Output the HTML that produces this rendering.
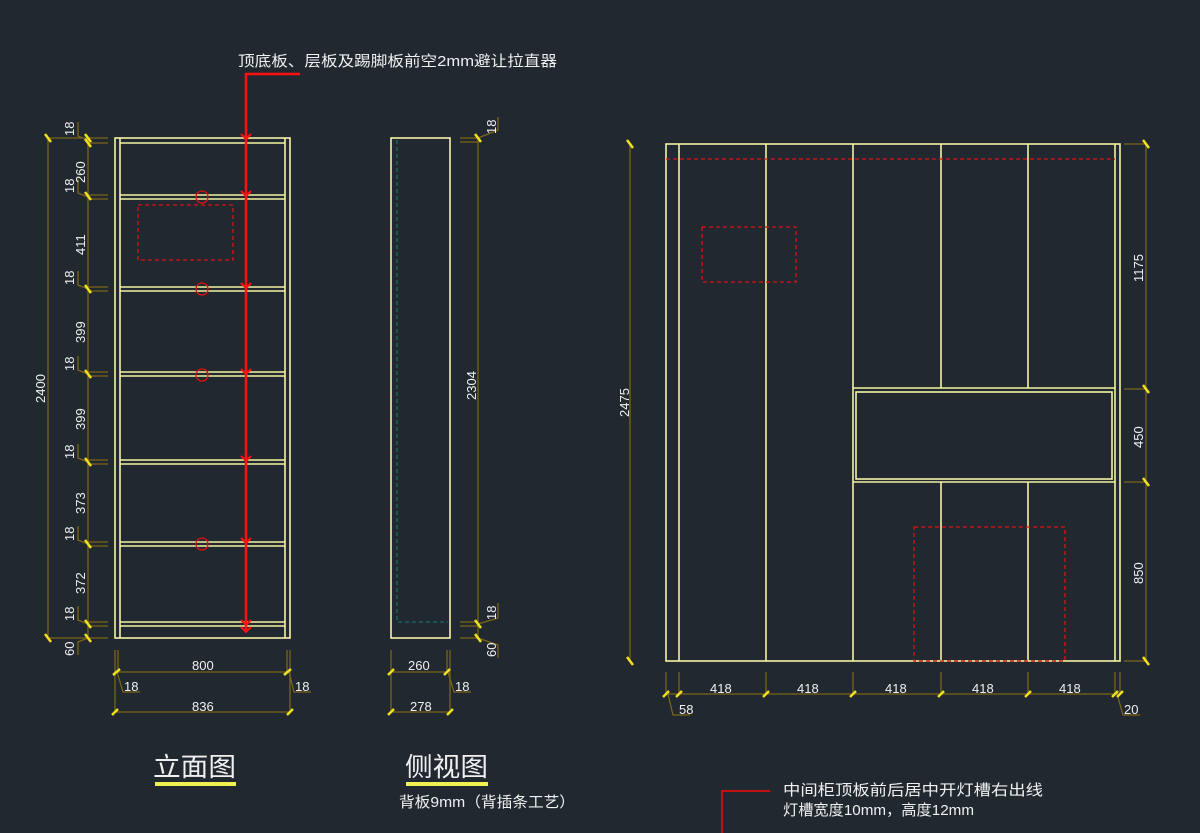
<!DOCTYPE html>
<html><head><meta charset="utf-8"><style>
html,body{margin:0;padding:0;background:#212830;}
svg{display:block;}
text{font-family:"Liberation Sans","Noto Sans CJK SC",sans-serif;fill:#f0f0f0;}
</style></head><body>
<svg width="1200" height="833" viewBox="0 0 1200 833" xmlns="http://www.w3.org/2000/svg">
<rect width="1200" height="833" fill="#212830"/>
<!-- ===== LEFT ELEVATION ===== -->
<g stroke="#f4f4a0" stroke-width="1.6" fill="none">
<rect x="115" y="138" width="175" height="500"/>
<line x1="120" y1="138" x2="120" y2="638"/><line x1="285" y1="138" x2="285" y2="638"/>
<line x1="120" y1="143" x2="285" y2="143"/>
<line x1="120" y1="195" x2="285" y2="195"/><line x1="120" y1="199" x2="285" y2="199"/>
<line x1="120" y1="287" x2="285" y2="287"/><line x1="120" y1="291" x2="285" y2="291"/>
<line x1="120" y1="372" x2="285" y2="372"/><line x1="120" y1="376" x2="285" y2="376"/>
<line x1="120" y1="460" x2="285" y2="460"/><line x1="120" y1="464" x2="285" y2="464"/>
<line x1="120" y1="542" x2="285" y2="542"/><line x1="120" y1="546" x2="285" y2="546"/>
<line x1="120" y1="622" x2="285" y2="622"/><line x1="120" y1="626" x2="285" y2="626"/>
</g>
<rect x="138" y="205" width="95" height="55" fill="none" stroke="#e01010" stroke-width="1.3" stroke-dasharray="4,3"/>
<g stroke="#e01010" stroke-width="1.3" fill="none">
<circle cx="202" cy="197" r="6"/><circle cx="202" cy="289" r="6"/><circle cx="202" cy="375" r="6"/><circle cx="202" cy="544" r="6"/>
</g>
<g stroke="#ff1010" stroke-width="2.5" fill="none">
<polyline points="300,74 246,74 246,632"/>
</g>
<g stroke="#ff1010" stroke-width="2" fill="none">
<polyline points="241,134 246,139 251,134"/><polyline points="241,191 246,196 251,191"/>
<polyline points="241,283 246,288 251,283"/><polyline points="241,369 246,374 251,369"/>
<polyline points="241,456 246,461 251,456"/><polyline points="241,538 246,543 251,538"/>
<polyline points="241,620 246,625 251,620"/><polyline points="241,627 246,632 251,627"/>
</g>
<text x="238" y="66" font-size="15" textLength="319" lengthAdjust="spacingAndGlyphs">顶底板、层板及踢脚板前空2mm避让拉直器</text>
<!-- left dims -->
<g stroke="#7a6418" stroke-width="1.3" fill="none">
<line x1="48" y1="138" x2="48" y2="638"/>
<line x1="48" y1="138" x2="108" y2="138"/><line x1="48" y1="638" x2="108" y2="638"/>
<line x1="88" y1="138" x2="88" y2="638"/>
<line x1="88" y1="143" x2="108" y2="143"/>
<line x1="88" y1="195" x2="108" y2="195"/><line x1="88" y1="199" x2="108" y2="199"/>
<line x1="88" y1="287" x2="108" y2="287"/><line x1="88" y1="291" x2="108" y2="291"/>
<line x1="88" y1="372" x2="108" y2="372"/><line x1="88" y1="376" x2="108" y2="376"/>
<line x1="88" y1="460" x2="108" y2="460"/><line x1="88" y1="464" x2="108" y2="464"/>
<line x1="88" y1="542" x2="108" y2="542"/><line x1="88" y1="546" x2="108" y2="546"/>
<line x1="88" y1="622" x2="108" y2="622"/><line x1="88" y1="626" x2="108" y2="626"/>
<polyline points="88,140 78,136 78,122"/>
<polyline points="88,197 78,193 78,179"/>
<polyline points="88,289 78,285 78,271"/>
<polyline points="88,374 78,370 78,356"/>
<polyline points="88,462 78,458 78,444"/>
<polyline points="88,544 78,540 78,526"/>
<polyline points="88,624 78,620 78,606"/>
<polyline points="88,638 78,642 78,655"/>
</g>
<g stroke="#f0e020" stroke-width="2.5">
<line x1="45" y1="134" x2="51" y2="142"/><line x1="45" y1="634" x2="51" y2="642"/>
<line x1="85" y1="134" x2="91" y2="142"/><line x1="85" y1="139" x2="91" y2="147"/>
<line x1="85" y1="192" x2="91" y2="200"/><line x1="85" y1="285" x2="91" y2="293"/>
<line x1="85" y1="370" x2="91" y2="378"/><line x1="85" y1="458" x2="91" y2="466"/>
<line x1="85" y1="540" x2="91" y2="548"/><line x1="85" y1="620" x2="91" y2="628"/>
<line x1="85" y1="634" x2="91" y2="642"/>
</g>
<g font-size="13">
<text transform="translate(45,403) rotate(-90)">2400</text>
<text transform="translate(74,136) rotate(-90)">18</text>
<text transform="translate(85,183) rotate(-90)">260</text>
<text transform="translate(74,193) rotate(-90)">18</text>
<text transform="translate(85,255) rotate(-90)">411</text>
<text transform="translate(74,285) rotate(-90)">18</text>
<text transform="translate(85,343) rotate(-90)">399</text>
<text transform="translate(74,371) rotate(-90)">18</text>
<text transform="translate(85,430) rotate(-90)">399</text>
<text transform="translate(74,459) rotate(-90)">18</text>
<text transform="translate(85,514) rotate(-90)">373</text>
<text transform="translate(74,541) rotate(-90)">18</text>
<text transform="translate(85,594) rotate(-90)">372</text>
<text transform="translate(74,621) rotate(-90)">18</text>
<text transform="translate(74,656) rotate(-90)">60</text>
</g>
<!-- bottom dims left -->
<g stroke="#7a6418" stroke-width="1.3" fill="none">
<line x1="115" y1="650" x2="115" y2="712"/><line x1="118" y1="650" x2="118" y2="672"/>
<line x1="287" y1="650" x2="287" y2="672"/><line x1="290" y1="650" x2="290" y2="712"/>
<line x1="118" y1="672" x2="287" y2="672"/><line x1="115" y1="712" x2="290" y2="712"/>
<polyline points="117,672 123,692 140,692"/><polyline points="289,672 294,692 311,692"/>
<line x1="391" y1="650" x2="391" y2="712"/><line x1="447" y1="650" x2="447" y2="672"/><line x1="450" y1="650" x2="450" y2="712"/>
<line x1="391" y1="672" x2="447" y2="672"/><line x1="391" y1="712" x2="450" y2="712"/>
<polyline points="448,672 454,692 471,692"/>
</g>
<g stroke="#f0e020" stroke-width="2.5">
<line x1="113" y1="675" x2="120" y2="669"/><line x1="284" y1="675" x2="291" y2="669"/>
<line x1="112" y1="715" x2="118" y2="709"/><line x1="287" y1="715" x2="293" y2="709"/>
<line x1="388" y1="675" x2="394" y2="669"/><line x1="444" y1="675" x2="450" y2="669"/>
<line x1="388" y1="715" x2="394" y2="709"/><line x1="447" y1="715" x2="453" y2="709"/>
</g>
<g font-size="13">
<text x="192" y="670">800</text><text x="192" y="711">836</text>
<text x="124" y="691">18</text><text x="295" y="691">18</text>
<text x="408" y="670">260</text><text x="410" y="711">278</text><text x="455" y="691">18</text>
</g>
<!-- ===== SIDE VIEW ===== -->
<rect x="391" y="138" width="59" height="500" fill="none" stroke="#f4f4a0" stroke-width="1.6"/>
<polyline points="397,140 397,622 448,622" fill="none" stroke="#1a6a6a" stroke-width="1.3" stroke-dasharray="4,3"/>
<g stroke="#7a6418" stroke-width="1.3" fill="none">
<line x1="478" y1="138" x2="478" y2="638"/>
<line x1="460" y1="138" x2="478" y2="138"/><line x1="460" y1="142" x2="478" y2="142"/>
<line x1="460" y1="622" x2="478" y2="622"/><line x1="460" y1="626" x2="478" y2="626"/><line x1="460" y1="638" x2="478" y2="638"/>
<polyline points="478,138 498,130 498,117"/>
<polyline points="478,624 498,618 498,603"/>
<polyline points="478,638 498,645 498,658"/>
</g>
<g stroke="#f0e020" stroke-width="2.5">
<line x1="475" y1="134" x2="481" y2="142"/><line x1="475" y1="620" x2="481" y2="628"/><line x1="475" y1="634" x2="481" y2="642"/>
</g>
<g font-size="13">
<text transform="translate(476,400) rotate(-90)">2304</text>
<text transform="translate(496,134) rotate(-90)">18</text>
<text transform="translate(496,620) rotate(-90)">18</text>
<text transform="translate(496,657) rotate(-90)">60</text>
</g>
<!-- ===== RIGHT ELEVATION ===== -->
<g stroke="#f4f4a0" stroke-width="1.6" fill="none">
<rect x="666" y="144" width="454" height="517"/>
<line x1="679" y1="144" x2="679" y2="661"/><line x1="766" y1="144" x2="766" y2="661"/>
<line x1="853" y1="144" x2="853" y2="661"/><line x1="1115" y1="144" x2="1115" y2="661"/>
<line x1="941" y1="144" x2="941" y2="388"/><line x1="941" y1="482" x2="941" y2="661"/>
<line x1="1028" y1="144" x2="1028" y2="388"/><line x1="1028" y1="482" x2="1028" y2="661"/>
<line x1="853" y1="388" x2="1115" y2="388"/><line x1="853" y1="482" x2="1115" y2="482"/>
<rect x="856" y="392" width="256" height="87"/>
</g>
<g stroke="#e01010" stroke-width="1.3" fill="none" stroke-dasharray="4,3">
<line x1="666" y1="159" x2="1115" y2="159"/>
<rect x="702" y="227" width="94" height="55"/>
<rect x="914" y="527" width="151" height="134"/>
</g>
<g stroke="#7a6418" stroke-width="1.3" fill="none">
<line x1="630" y1="144" x2="630" y2="661"/>
<line x1="1146" y1="144" x2="1146" y2="661"/>
<line x1="1124" y1="144" x2="1146" y2="144"/><line x1="1124" y1="389" x2="1146" y2="389"/>
<line x1="1124" y1="482" x2="1146" y2="482"/><line x1="1124" y1="661" x2="1146" y2="661"/>
<line x1="666" y1="694" x2="1120" y2="694"/>
<line x1="666" y1="672" x2="666" y2="694"/><line x1="679" y1="672" x2="679" y2="694"/>
<line x1="766" y1="672" x2="766" y2="694"/><line x1="853" y1="672" x2="853" y2="694"/>
<line x1="941" y1="672" x2="941" y2="694"/><line x1="1028" y1="672" x2="1028" y2="694"/>
<line x1="1115" y1="672" x2="1115" y2="694"/><line x1="1120" y1="672" x2="1120" y2="694"/>
<polyline points="668,694 673,715 690,715"/><polyline points="1117,694 1123,715 1140,715"/>
</g>
<g stroke="#f0e020" stroke-width="2.5">
<line x1="627" y1="140" x2="633" y2="148"/><line x1="627" y1="657" x2="633" y2="665"/>
<line x1="1143" y1="140" x2="1149" y2="148"/><line x1="1143" y1="385" x2="1149" y2="393"/>
<line x1="1143" y1="478" x2="1149" y2="486"/><line x1="1143" y1="657" x2="1149" y2="665"/>
<line x1="663" y1="697" x2="669" y2="691"/><line x1="676" y1="697" x2="682" y2="691"/>
<line x1="763" y1="697" x2="769" y2="691"/><line x1="850" y1="697" x2="856" y2="691"/>
<line x1="938" y1="697" x2="944" y2="691"/><line x1="1025" y1="697" x2="1031" y2="691"/>
<line x1="1112" y1="697" x2="1118" y2="691"/><line x1="1117" y1="697" x2="1123" y2="691"/>
</g>
<g font-size="13">
<text transform="translate(629,417) rotate(-90)">2475</text>
<text transform="translate(1143,282) rotate(-90)">1175</text>
<text transform="translate(1143,448) rotate(-90)">450</text>
<text transform="translate(1143,584) rotate(-90)">850</text>
<text x="710" y="693">418</text><text x="797" y="693">418</text><text x="885" y="693">418</text>
<text x="972" y="693">418</text><text x="1059" y="693">418</text>
<text x="679" y="714">58</text><text x="1124" y="714">20</text>
</g>
<!-- ===== LABELS ===== -->
<text x="153" y="776" font-size="26" textLength="83" lengthAdjust="spacingAndGlyphs">立面图</text>
<rect x="155" y="782" width="81" height="4" fill="#f0f050"/>
<text x="405" y="776" font-size="26" textLength="83" lengthAdjust="spacingAndGlyphs">侧视图</text>
<rect x="406" y="782" width="82" height="4" fill="#f0f050"/>
<text x="399" y="807" font-size="15" textLength="176" lengthAdjust="spacingAndGlyphs">背板9mm（背插条工艺）</text>
<polyline points="770,791 722,791 722,833" fill="none" stroke="#c01010" stroke-width="2"/>
<text x="783" y="795" font-size="15" textLength="260" lengthAdjust="spacingAndGlyphs">中间柜顶板前后居中开灯槽右出线</text>
<text x="783" y="815" font-size="15" textLength="191" lengthAdjust="spacingAndGlyphs">灯槽宽度10mm，高度12mm</text>
</svg>
</body></html>
